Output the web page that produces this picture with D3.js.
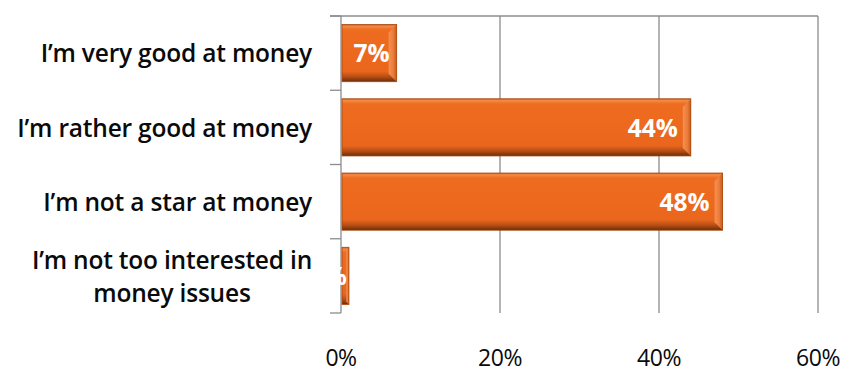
<!DOCTYPE html>
<html>
<head>
<meta charset="utf-8">
<script src="https://cdn.jsdelivr.net/npm/d3@7"></script>
<style>
  html, body { margin: 0; padding: 0; background: #fff; }
  svg { display: block; }
  text { font-family: "Open Sans", Lato, sans-serif; }
</style>
</head>
<body>
<svg id="chart" width="848" height="372"></svg>
<script>
// Self-assessment of money skills (share of respondents)
const categories = [
  "I\u2019m very good at money",
  "I\u2019m rather good at money",
  "I\u2019m not a star at money",
  "I\u2019m not too interested in money issues"
];
const categoryLines = [
  ["I\u2019m very good at money"],
  ["I\u2019m rather good at money"],
  ["I\u2019m not a star at money"],
  ["I\u2019m not too interested in", "money issues"]
];
const values = [7, 44, 48, 1];
const xTicks = [0, 20, 40, 60];

const svg = d3.select("#chart");
const margin = { top: 16, right: 30, bottom: 59, left: 341 };
const width = 848 - margin.left - margin.right;
const height = 372 - margin.top - margin.bottom;

const x = d3.scaleLinear().domain([0, 60]).range([0, width]);
const y = d3.scaleBand().domain(categories).range([0, height]).paddingInner(0.23).paddingOuter(0.115);

const defs = svg.append("defs");
const g1 = defs.append("linearGradient").attr("id", "barV").attr("x1", 0).attr("y1", 0).attr("x2", 0).attr("y2", 1);
[["0%", "#c9581a"], ["3%", "#f58a45"], ["9%", "#ee6c20"], ["82%", "#ea661c"], ["92%", "#b24c14"], ["100%", "#6a2c0b"]]
  .forEach(([o, c]) => g1.append("stop").attr("offset", o).attr("stop-color", c));
const g2 = defs.append("linearGradient").attr("id", "barEnd").attr("x1", 0).attr("y1", 0).attr("x2", 1).attr("y2", 0);
[["0%", "#f39155"], ["60%", "#ec7a36"], ["100%", "#c05a1e"]]
  .forEach(([o, c]) => g2.append("stop").attr("offset", o).attr("stop-color", c));

const root = svg.append("g").attr("transform", `translate(${margin.left},${margin.top})`);

// vertical gridlines
root.selectAll("line.grid").data(xTicks).join("line")
  .attr("class", "grid")
  .attr("x1", d => x(d)).attr("x2", d => x(d))
  .attr("y1", 0).attr("y2", height)
  .attr("stroke", "#8c8c8c").attr("stroke-width", 1.3);

// top border line
root.append("line").attr("x1", -11).attr("x2", width).attr("y1", 0).attr("y2", 0)
  .attr("stroke", "#8c8c8c").attr("stroke-width", 1.3);

// category-boundary ticks on the left axis
const step = height / categories.length;
root.selectAll("line.ytick").data(d3.range(categories.length + 1)).join("line")
  .attr("class", "ytick")
  .attr("x1", -11).attr("x2", 0)
  .attr("y1", i => i * step).attr("y2", i => i * step)
  .attr("stroke", "#8c8c8c").attr("stroke-width", 1.3);

// bars with bevelled look
const bars = root.selectAll("g.bar").data(categories.map((c, i) => ({ c, v: values[i] }))).join("g").attr("class", "bar");
bars.append("rect")
  .attr("x", x(0) + 1).attr("y", d => y(d.c))
  .attr("width", d => x(d.v) - x(0) - 1).attr("height", y.bandwidth())
  .attr("fill", "url(#barV)");
bars.append("path")
  .attr("d", d => {
    const x1 = x(d.v), y0 = y(d.c), h = y.bandwidth(), b = Math.min(8, (x1 - x(0)) / 3);
    return `M${x1 - b},${y0 + b}L${x1},${y0}L${x1},${y0 + h}L${x1 - b},${y0 + h - b}Z`;
  })
  .attr("fill", "url(#barEnd)");
bars.append("rect")
  .attr("x", x(0) + 1).attr("y", d => y(d.c))
  .attr("width", d => x(d.v) - x(0) - 1).attr("height", y.bandwidth())
  .attr("fill", "none").attr("stroke", "#a8480f").attr("stroke-width", 0.8);

// value labels (inside end)
bars.append("text")
  .attr("x", d => x(d.v) - (d.v < 5 ? 2 : d.v < 10 ? 7 : 13))
  .attr("y", d => y(d.c) + y.bandwidth() / 2)
  .attr("dy", "0.38em")
  .attr("text-anchor", "end")
  .attr("fill", "#fff")
  .attr("font-weight", 700)
  .attr("font-size", 24.5)
  .text(d => d.v + "%");

// category labels: block right-aligned, lines centred within the block
const labelRight = -29;
root.selectAll("text.cat").data(categories).join("text")
  .attr("class", "cat")
  .attr("fill", "#0a0a0a")
  .attr("font-size", 24.5)
  .attr("font-weight", 600)
  .attr("letter-spacing", -0.2)
  .each(function(d, i) {
    const t = d3.select(this);
    const lines = categoryLines[i];
    const cy = y(d) + y.bandwidth() / 2;
    const spans = lines.map((ln, k) =>
      t.append("tspan")
        .attr("y", cy + (k - (lines.length - 1) / 2) * 33)
        .attr("dy", "0.38em")
        .text(ln));
    const widths = spans.map(s => s.node().getComputedTextLength());
    const blockW = Math.max(...widths);
    spans.forEach((s, k) => s.attr("x", labelRight - blockW / 2 - widths[k] / 2));
  });

// x-axis tick labels
root.selectAll("text.xt").data(xTicks).join("text")
  .attr("class", "xt")
  .attr("x", d => x(d)).attr("y", height + 53)
  .attr("text-anchor", "middle")
  .attr("fill", "#0a0a0a")
  .attr("font-size", 23)
  .attr("font-weight", 500)
  .attr("letter-spacing", -0.5)
  .text(d => d + "%");
</script>
</body>
</html>
